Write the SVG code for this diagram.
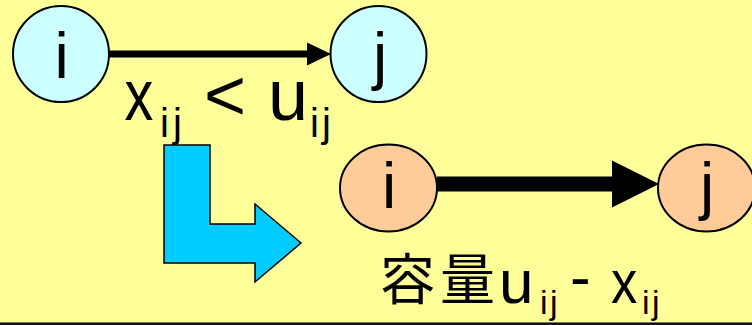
<svg xmlns="http://www.w3.org/2000/svg" width="752" height="325" viewBox="0 0 752 325">
  <style>
    .bg { fill: #FFFF99; }
    .node-top { fill: #CCFFFF; stroke: #000; stroke-width: 2; }
    .node-bot { fill: #FFCC99; stroke: #000; stroke-width: 2; }
    .lbl { font-family: "Liberation Sans", Arial, sans-serif; fill: #000; }
    .node-lbl { font-size: 64px; text-anchor: middle; }
    .big { font-size: 72px; }
    .sub { font-size: 40px; }
    .mid { font-size: 62px; }
    .sub2 { font-size: 34px; }
    .cjk { font-family: "Noto Sans CJK JP", "Noto Sans CJK SC", sans-serif; font-size: 55px; fill: #000; }
    .edge { stroke: #000; fill: none; }
  </style>

  <rect class="bg" x="0" y="0" width="752" height="325"/>
  <!-- bottom rule -->
  <rect x="0" y="322" width="752" height="1" fill="#777"/>
  <rect x="0" y="323" width="752" height="2" fill="#111"/>

  <!-- connectors -->
  <g id="connectors">
    <g id="edge-top">
      <line class="edge" x1="109" y1="54" x2="309" y2="54" stroke-width="7"/>
      <polygon points="307,42.5 331,54 307,65.5" fill="#000"/>
    </g>
    <g id="edge-bottom">
      <line class="edge" x1="437" y1="184" x2="614" y2="184" stroke-width="15"/>
      <polygon points="612,160.5 659,184 612,207.5" fill="#000"/>
    </g>
  </g>

  <!-- top pair of nodes -->
  <g id="node-i-top">
    <circle class="node-top" cx="61" cy="54" r="48"/>
    <text class="lbl node-lbl" x="61.5" y="78">i</text>
  </g>
  <g id="node-j-top">
    <circle class="node-top" cx="378.5" cy="54" r="48"/>
    <text class="lbl node-lbl" x="380" y="78">j</text>
  </g>

  <!-- bottom pair of nodes -->
  <g id="node-i-bottom">
    <ellipse class="node-bot" cx="388.5" cy="188" rx="48.5" ry="43.5"/>
    <text class="lbl node-lbl" x="389" y="208">i</text>
  </g>
  <g id="node-j-bottom">
    <ellipse class="node-bot" cx="706.5" cy="188" rx="48.5" ry="43.5"/>
    <text class="lbl node-lbl" x="707" y="222" dy="-14">j</text>
  </g>

  <!-- condition label: x_ij < u_ij -->
  <g id="label-top">
    <text class="lbl big" transform="translate(124.5,120) scale(0.8,1)">x</text>
    <text class="lbl sub" y="137"><tspan x="160">i</tspan><tspan x="173">j</tspan></text>
    <text class="lbl big" x="204" y="120">&lt;</text>
    <text class="lbl big" x="268" y="120">u</text>
    <text class="lbl sub" y="137"><tspan x="310">i</tspan><tspan x="322">j</tspan></text>
  </g>

  <!-- bent arrow -->
  <g id="turn-arrow">
    <polygon points="164,145 210,145 210,224 255,224 255,204 301,243 255,282 255,263 164,263" fill="#00CCFF" stroke="#000" stroke-width="1.5" stroke-linejoin="miter"/>
  </g>

  <!-- residual capacity label -->
  <g id="label-bottom">
    <text class="cjk" x="380" y="299">容</text>
    <text class="cjk" x="440" y="299">量</text>
    <text class="lbl mid" x="499" y="303">u</text>
    <text class="lbl sub2" y="314"><tspan x="540">i</tspan><tspan x="550">j</tspan></text>
    <text class="lbl mid" x="570" y="298">-</text>
    <text class="lbl mid" transform="translate(611,303) scale(0.85,1)">x</text>
    <text class="lbl sub2" y="314"><tspan x="642">i</tspan><tspan x="652">j</tspan></text>
  </g>
</svg>
